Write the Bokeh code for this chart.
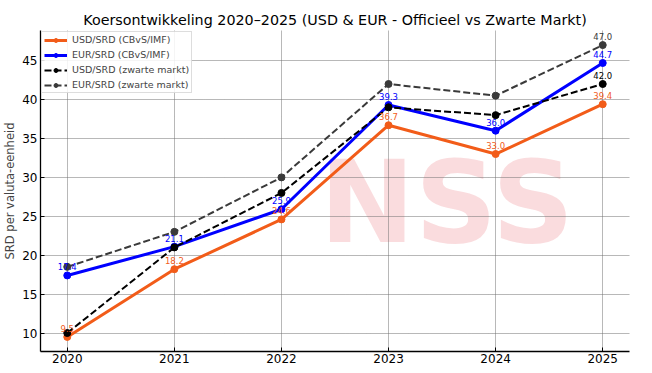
from bokeh.plotting import figure
from bokeh.models import Range1d, Label, FixedTicker, ColumnDataSource
from bokeh.embed import file_html
from bokeh.resources import INLINE
from bokeh.core.properties import value

years = [2020, 2021, 2022, 2023, 2024, 2025]
usd_official = [9.5, 18.2, 24.6, 36.7, 33.0, 39.4]
eur_official = [17.4, 21.1, 25.9, 39.3, 36.0, 44.7]
usd_black = [10.0, 21.0, 28.0, 39.0, 38.0, 42.0]
eur_black = [18.5, 23.0, 30.0, 42.0, 40.5, 47.0]
y_ticks = [10, 15, 20, 25, 30, 35, 40, 45]

series_names = ["USD/SRD (CBvS/IMF)", "EUR/SRD (CBvS/IMF)",
                "USD/SRD (zwarte markt)", "EUR/SRD (zwarte markt)"]
title_text = "Koersontwikkeling 2020\u20132025 (USD & EUR - Officieel vs Zwarte Markt)"
y_label = "SRD per valuta-eenheid"

FONT = "DejaVu Sans"

all_vals = usd_official + eur_official + usd_black + eur_black
lo, hi = min(all_vals), max(all_vals)
pad = 0.05 * (hi - lo)
xpad = 0.05 * (max(years) - min(years))

p = figure(width=636, height=365, output_backend="svg", toolbar_location=None,
           x_range=Range1d(min(years) - xpad, max(years) + xpad),
           y_range=Range1d(lo - pad, hi + pad),
           min_border_left=34, min_border_right=7, min_border_top=30, min_border_bottom=0)

p.title.text = title_text
p.title.align = "center"
p.title.text_font = FONT
p.title.text_font_size = "14.3px"
p.title.text_font_style = "normal"
p.title.text_color = "black"
p.title.standoff = 6

p.outline_line_color = None
p.background_fill_color = "white"
p.border_fill_color = "white"

# watermark (faint NSS logo text)
wm = Label(x=279, y=83, x_units="screen", y_units="screen", text="NSS",
           text_font=FONT, text_font_size="114px", text_font_style="bold",
           text_color="#e8505b", text_alpha=0.2, level="image")
p.add_layout(wm)

for ax in (p.xaxis[0], p.yaxis[0]):
    ax.axis_line_color = "black"
    ax.axis_line_width = 1.3
    ax.major_tick_in = 4
    ax.major_tick_out = 0
    ax.minor_tick_line_color = None
    ax.major_tick_line_color = "black"
    ax.major_label_text_font = FONT
    ax.major_label_text_font_size = "12px"
    ax.major_label_text_color = "black"
    ax.major_label_standoff = 3

p.xaxis.major_label_standoff = 2
p.xaxis.ticker = FixedTicker(ticks=years)
p.yaxis.ticker = FixedTicker(ticks=y_ticks)
p.yaxis.axis_label = y_label
p.yaxis.axis_label_text_font = FONT
p.yaxis.axis_label_text_font_size = "11.5px"
p.yaxis.axis_label_text_font_style = "normal"
p.yaxis.axis_label_standoff = 2

for g in (p.xgrid[0], p.ygrid[0]):
    g.grid_line_color = "#707070"
    g.grid_line_dash = "1 1"
    g.grid_line_width = 1

colors = ["#f25c19", "#0000ff", "#000000", "#3a3a3a"]
widths = [3, 3, 2, 2]
dashes = ["solid", "solid", "7 3", "7 3"]
data = [usd_official, eur_official, usd_black, eur_black]

for name, ys, c, w, d in zip(series_names, data, colors, widths, dashes):
    p.line(years, ys, line_color=c, line_width=w, line_dash=d, legend_label=name)
    p.scatter(years, ys, size=7, fill_color=c, line_color=c, legend_label=name)

# value labels
for i, (ys, c) in enumerate(zip(data, colors)):
    if i < 2:
        xs, vs = years, ys
    else:
        xs, vs = years[-1:], ys[-1:]
    src = ColumnDataSource(dict(x=xs, y=vs, t=[f"{v:.1f}" for v in vs]))
    p.text(x="x", y="y", text="t", source=src, text_color=c,
           text_font=value(FONT), text_font_size="8.5px",
           text_align="center", text_baseline="bottom", y_offset=-5)

lg = p.legend[0]
lg.location = "top_left"
lg.margin = 1
lg.padding = 2
lg.spacing = 4
lg.label_text_font = FONT
lg.label_text_font_size = "9.5px"
lg.label_height = 10
lg.glyph_height = 10
lg.glyph_width = 23
lg.label_standoff = 5
lg.border_line_color = "#bbbbbb"
lg.border_line_width = 1
lg.background_fill_alpha = 0.85

open("out.html", "w").write(file_html(p, INLINE))
